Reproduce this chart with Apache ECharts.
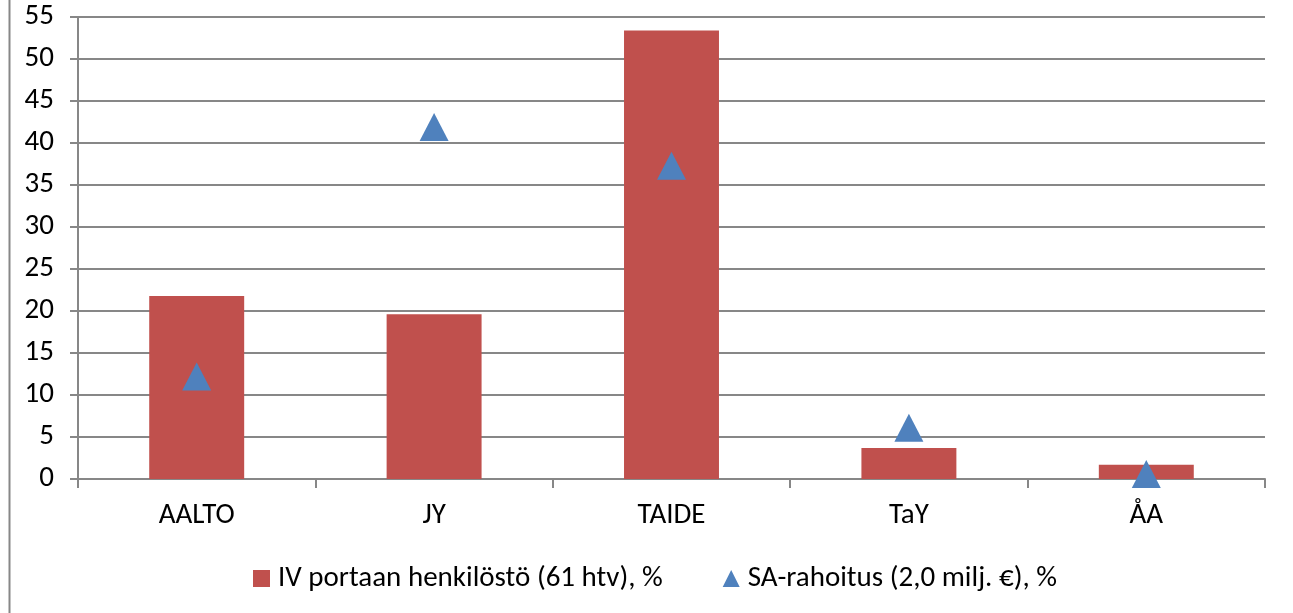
<!DOCTYPE html>
<html>
<head>
<meta charset="utf-8">
<script src="https://cdn.jsdelivr.net/npm/echarts@6/dist/echarts.min.js"></script>
<style>
  html, body { margin: 0; padding: 0; background: #fff; }
  #main { width: 1293px; height: 613px; }
</style>
</head>
<body>
<div id="main"></div>
<script>
var chartDom = document.getElementById('main');
var myChart = echarts.init(chartDom);
var option;

const categories = ['AALTO', 'JY', 'TAIDE', 'TaY', 'ÅA'];
const staffShare = [21.8, 19.6, 53.4, 3.7, 1.7];
const fundingShare = [12.2, 41.9, 37.3, 6.1, 0.6];

const barColor = '#C0504D';
const markColor = '#4F81BD';
const gridColor = '#878787';
const fontFamily = 'Carlito, Calibri, Lato, sans-serif';

option = {
  animation: false,
  backgroundColor: '#fff',
  textStyle: { fontFamily: fontFamily },
  graphic: [
    {
      type: 'line',
      shape: { x1: 9.5, y1: 0, x2: 9.5, y2: 613 },
      style: { stroke: gridColor, lineWidth: 2 }
    }
  ],
  grid: {
    left: 78,
    right: 28,
    top: 17,
    bottom: 134
  },
  legend: {
    top: 559,
    left: 248,
    itemWidth: 17,
    itemHeight: 17,
    itemGap: 60,
    textStyle: { fontSize: 29, color: '#000', fontFamily: fontFamily, padding: [0, 0, 0, 3] },
    data: [
      { name: 'IV portaan henkilöstö (61 htv), %', icon: 'rect' },
      { name: 'SA-rahoitus (2,0 milj. €), %', icon: 'triangle' }
    ]
  },
  xAxis: {
    type: 'category',
    data: categories,
    boundaryGap: true,
    axisLine: { lineStyle: { color: gridColor, width: 2 } },
    axisTick: { show: true, length: 9, lineStyle: { color: gridColor, width: 2 } },
    axisLabel: { color: '#000', fontSize: 29, margin: 22, fontFamily: fontFamily }
  },
  yAxis: {
    type: 'value',
    min: 0,
    max: 55,
    interval: 5,
    axisLine: { show: true, lineStyle: { color: gridColor, width: 2 } },
    axisTick: { show: true, length: 8, lineStyle: { color: gridColor, width: 2 } },
    axisLabel: { color: '#000', fontSize: 29, margin: 24, fontFamily: fontFamily },
    splitLine: { lineStyle: { color: gridColor, width: 2 } }
  },
  series: [
    {
      name: 'IV portaan henkilöstö (61 htv), %',
      type: 'bar',
      data: staffShare,
      barWidth: '40%',
      itemStyle: { color: barColor }
    },
    {
      name: 'SA-rahoitus (2,0 milj. €), %',
      type: 'scatter',
      data: fundingShare,
      symbol: 'triangle',
      symbolSize: [29, 28],
      itemStyle: { color: markColor, opacity: 1 }
    }
  ]
};

option && myChart.setOption(option);
</script>
</body>
</html>
